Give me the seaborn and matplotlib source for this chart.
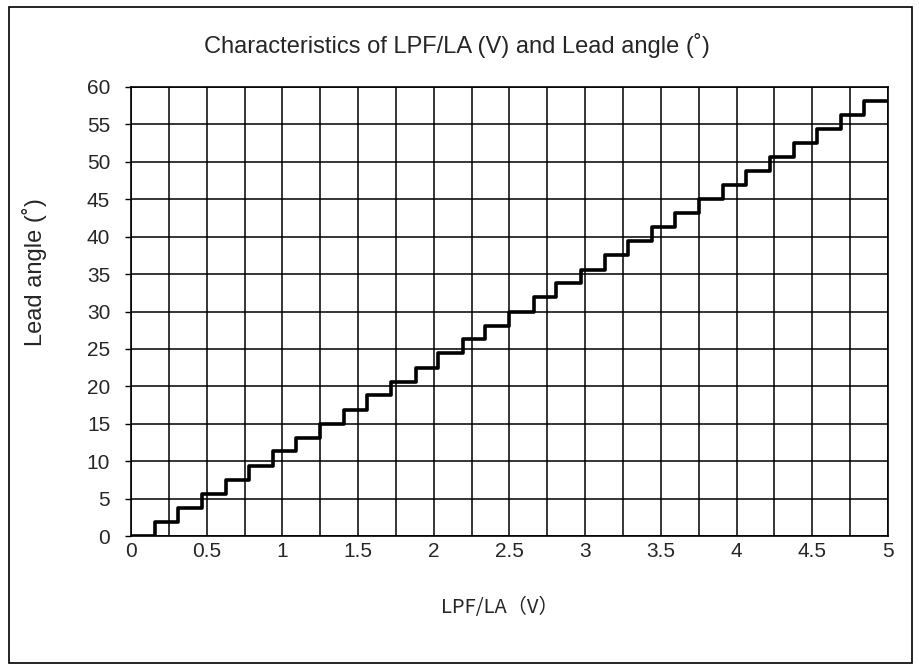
import matplotlib
matplotlib.use("Agg")
import matplotlib.pyplot as plt
import seaborn as sns
import pandas as pd
from matplotlib.patches import Rectangle

# Step edges (V) and lead-angle levels (deg)
step_x = [0, 0.16, 0.31, 0.47, 0.63, 0.78, 0.94, 1.09, 1.25, 1.41, 1.56, 1.72,
          1.88, 2.03, 2.19, 2.34, 2.50, 2.66, 2.81, 2.97, 3.13, 3.28, 3.44,
          3.59, 3.75, 3.91, 4.06, 4.22, 4.38, 4.53, 4.69, 4.84, 5.0]
levels = [0, 1.9, 3.8, 5.6, 7.5, 9.4, 11.3, 13.1, 15.0, 16.9, 18.8, 20.6,
          22.5, 24.4, 26.3, 28.1, 30.0, 31.9, 33.8, 35.6, 37.5, 39.4, 41.3,
          43.1, 45.0, 46.9, 48.8, 50.6, 52.5, 54.4, 56.3, 58.1]
x_ticks = [0, 0.5, 1, 1.5, 2, 2.5, 3, 3.5, 4, 4.5, 5]
x_tick_labels = ["0", "0.5", "1", "1.5", "2", "2.5", "3", "3.5", "4", "4.5", "5"]
y_ticks = [0, 5, 10, 15, 20, 25, 30, 35, 40, 45, 50, 55, 60]

df = pd.DataFrame({"v": step_x, "angle": levels + [levels[-1]]})

sns.set_style("white")
plt.rcParams["font.family"] = ["Liberation Sans", "Noto Sans CJK JP", "DejaVu Sans"]

fig = plt.figure(figsize=(9.2, 6.71), dpi=100)
ax = fig.add_axes([131/920, 1-536/671, (888-131)/920, (536-87)/671])

# grid
for xv in [i * 0.25 for i in range(21)]:
    ax.axvline(xv, color="black", lw=1.1, zorder=1)
for yv in y_ticks:
    ax.axhline(yv, color="black", lw=1.1, zorder=1)

sns.lineplot(data=df, x="v", y="angle", drawstyle="steps-post", color="black",
             lw=2.6, ax=ax, zorder=3)

ax.set_xlim(0, 5)
ax.set_ylim(0, 60)
ax.set_xticks(x_ticks)
ax.set_xticklabels(x_tick_labels)
ax.set_yticks(y_ticks)
ax.tick_params(axis="x", length=0, pad=4, labelsize=15)
ax.tick_params(axis="y", length=4, width=1, color="black", direction="out",
               pad=11, labelsize=15, left=True)
for s in ax.spines.values():
    s.set_color("black")
    s.set_linewidth(1.2)

ax.set_xlabel("LPF/LA（V）", fontsize=14.5, family=["Noto Sans CJK JP", "DejaVu Sans"],
              va="center")
ax.xaxis.set_label_coords(0.487, -0.16)
ax.set_ylabel("Lead angle (˚)", fontsize=17, va="center")
ax.yaxis.set_label_coords(-0.127, 0.588)

fig.text(0.497, 1-45/671, "Characteristics of LPF/LA (V) and Lead angle (˚)",
         ha="center", va="center", fontsize=17)

fig.patches.append(Rectangle((9/920, 1-663/671), (912-9)/920, (663-7)/671,
                             transform=fig.transFigure, fill=False,
                             edgecolor="black", lw=1.2))

fig.savefig("out.png", dpi=100)
